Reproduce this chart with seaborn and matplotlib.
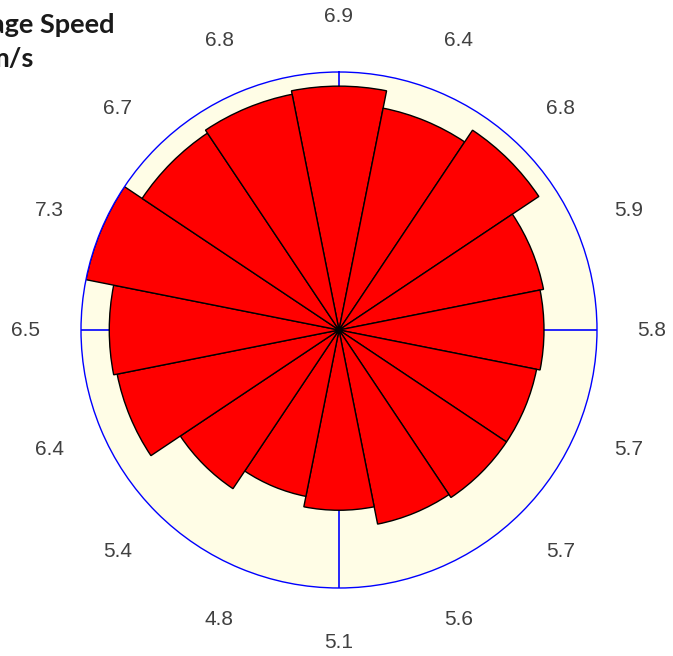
import numpy as np
import pandas as pd
import matplotlib
matplotlib.use("Agg")
import matplotlib.pyplot as plt
import seaborn as sns

directions = ["N", "NNE", "NE", "ENE", "E", "ESE", "SE", "SSE",
              "S", "SSW", "SW", "WSW", "W", "WNW", "NW", "NNW"]
speeds = [6.9, 6.4, 6.8, 5.9, 5.8, 5.7, 5.7, 5.6,
          5.1, 4.8, 5.4, 6.4, 6.5, 7.3, 6.7, 6.8]
speed_labels = ["6.9", "6.4", "6.8", "5.9", "5.8", "5.7", "5.7", "5.6",
                "5.1", "4.8", "5.4", "6.4", "6.5", "7.3", "6.7", "6.8"]
title_line1 = "Average Speed"
title_line2 = "m/s"

sns.set_style("white")
plt.rcParams['font.family'] = ['Liberation Sans', 'DejaVu Sans']

n = len(directions)
theta = np.arange(n) * 2 * np.pi / n
df = pd.DataFrame({"theta": theta, "speed": speeds, "dir": directions})

W, H = 673, 656
fig = plt.figure(figsize=(W / 100, H / 100), dpi=100)
cx, cy, R = 339, 330, 258
ax = fig.add_axes([(cx - R) / W, (H - cy - R) / H, 2 * R / W, 2 * R / H], projection="polar")
ax.set_theta_zero_location("N")
ax.set_theta_direction(-1)
ax.set_facecolor("#fffde6")

rmax = 7.3
# cardinal lines
for a in [0, np.pi / 2, np.pi, 3 * np.pi / 2]:
    ax.plot([a, a], [0, rmax], color="#0000ff", lw=1.2, zorder=1)

sns.barplot(data=df, x="theta", y="speed", native_scale=True, width=1.0,
            color="#ff0000", saturation=1, edgecolor="black", linewidth=1.0,
            errorbar=None, orient="x", ax=ax, zorder=2)

ax.set_ylim(0, rmax)
ax.set_xlim(0, 2 * np.pi)
ax.set_xticks([])
ax.set_yticks([])
ax.grid(False)
ax.set_xlabel("")
ax.set_ylabel("")
ax.spines["polar"].set_color("#0000ff")
ax.spines["polar"].set_linewidth(1.0)

lab_r = rmax * 313 / R
for t, s in zip(theta, speed_labels):
    ax.text(t, lab_r, s, ha="center", va="center", fontsize=15, color="#404040",
            clip_on=False)

fig.text(-67 / W, 1 - 25 / H, title_line1, ha="left", va="center", fontsize=19.5,
         fontweight="bold", family=["Lato", "DejaVu Sans"], color="#1a1a1a")
fig.text(-14 / W, 1 - 59 / H, title_line2, ha="left", va="center", fontsize=19.5,
         fontweight="bold", family=["Lato", "DejaVu Sans"], color="#1a1a1a")

fig.savefig("out.png", dpi=100)
